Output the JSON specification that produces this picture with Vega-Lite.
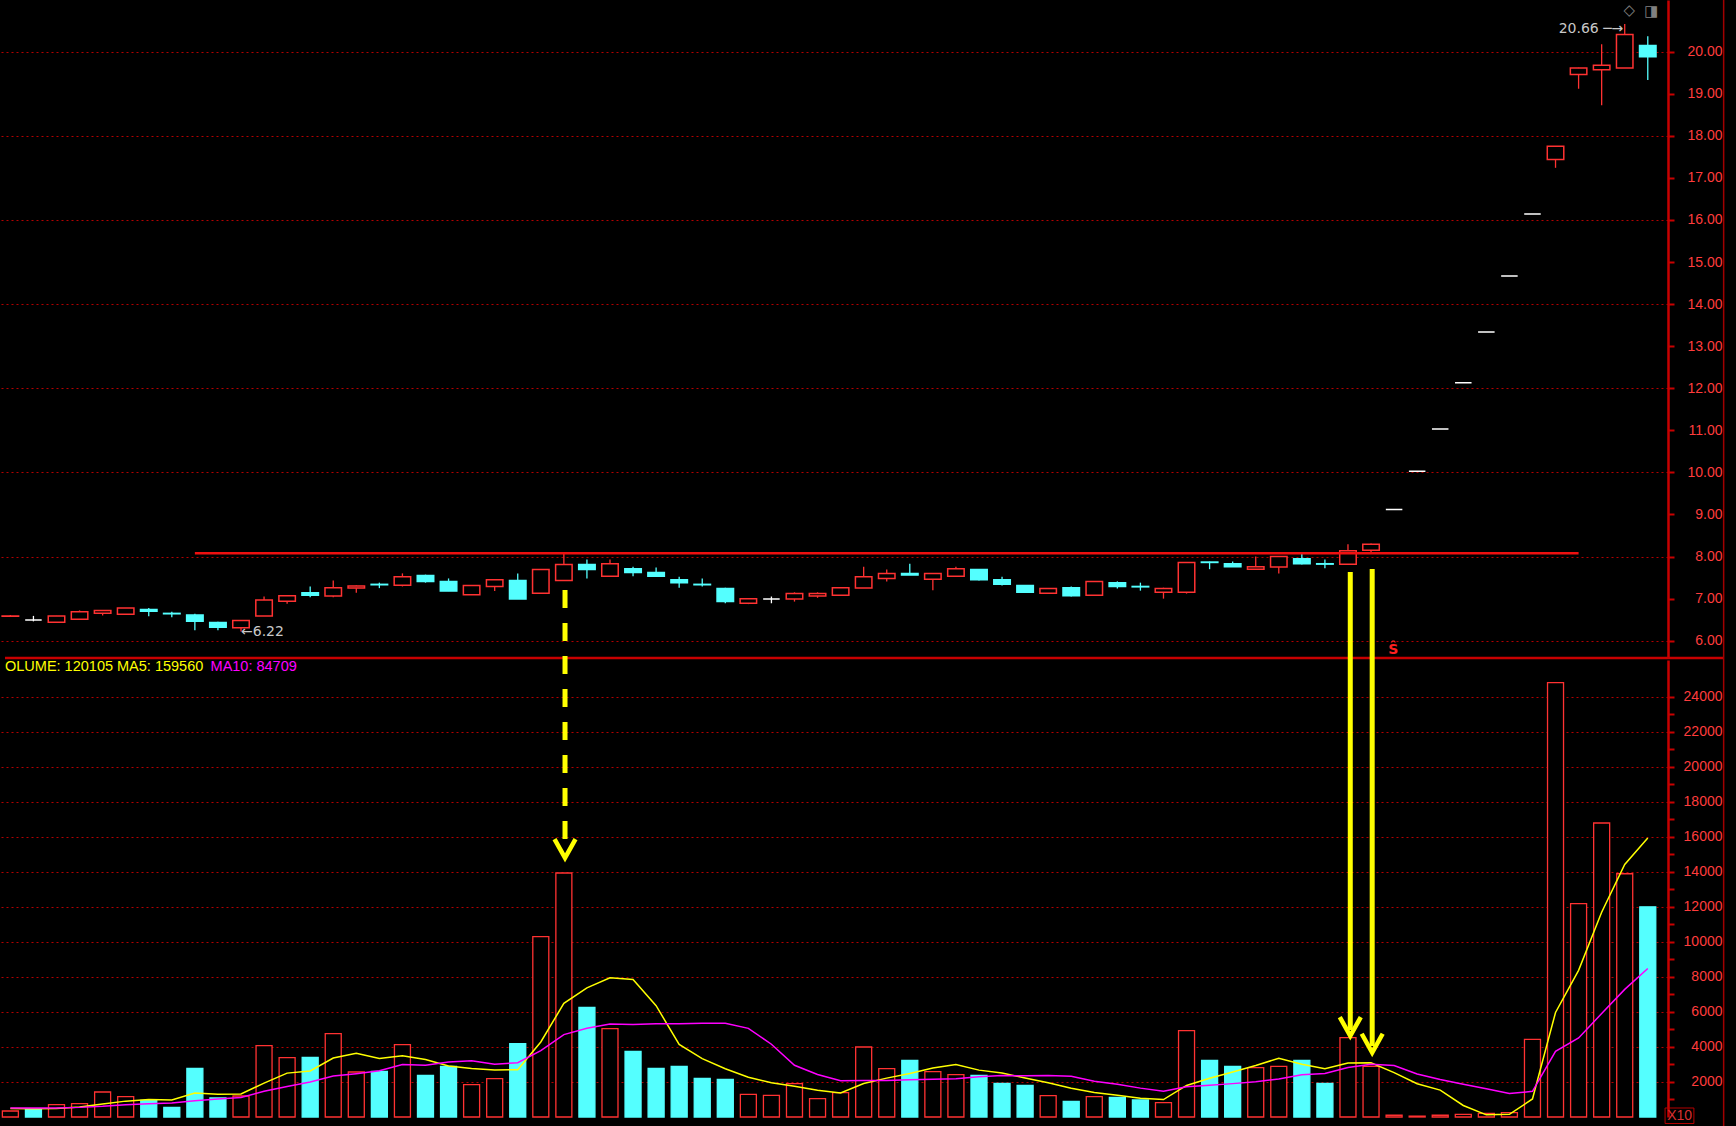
{
  "$schema": "https://vega.github.io/schema/vega-lite/v6.json",
  "width": 1668,
  "height": 1117,
  "autosize": {"type": "none"},
  "padding": {"left": 0, "top": 0, "right": 68, "bottom": 9},
  "background": "#000000",
  "config": {
    "view": {"stroke": null},
    "axis": {"labelFont": "Liberation Sans", "labelFontSize": 14, "labelColor": "#ff3c3c", "domainColor": "#c80000", "tickColor": "#c80000", "title": null}
  },
  "datasets": {
    "k": [
      {"i":1,"o":6.58,"h":6.61,"l":6.57,"c":6.59,"d":"u","v":343,"vc":"u","m5":480,"m10":515},
      {"i":2,"o":6.49,"h":6.59,"l":6.46,"c":6.49,"d":"f","v":476,"vc":"d","m5":475,"m10":515},
      {"i":3,"o":6.44,"h":6.59,"l":6.44,"c":6.59,"d":"u","v":705,"vc":"u","m5":480,"m10":520},
      {"i":4,"o":6.51,"h":6.72,"l":6.51,"c":6.69,"d":"u","v":762,"vc":"u","m5":575,"m10":550},
      {"i":5,"o":6.65,"h":6.72,"l":6.60,"c":6.72,"d":"u","v":1429,"vc":"u","m5":743,"m10":610},
      {"i":6,"o":6.63,"h":6.78,"l":6.63,"c":6.78,"d":"u","v":1162,"vc":"u","m5":907,"m10":700},
      {"i":7,"o":6.74,"h":6.78,"l":6.58,"c":6.70,"d":"d","v":952,"vc":"d","m5":1002,"m10":760},
      {"i":8,"o":6.65,"h":6.69,"l":6.56,"c":6.64,"d":"d","v":552,"vc":"d","m5":971,"m10":800},
      {"i":9,"o":6.61,"h":6.64,"l":6.25,"c":6.46,"d":"d","v":2781,"vc":"d","m5":1375,"m10":935},
      {"i":10,"o":6.43,"h":6.45,"l":6.25,"c":6.32,"d":"d","v":1086,"vc":"d","m5":1307,"m10":1025},
      {"i":11,"o":6.31,"h":6.48,"l":6.22,"c":6.48,"d":"u","v":1200,"vc":"u","m5":1314,"m10":1111},
      {"i":12,"o":6.59,"h":7.05,"l":6.59,"c":6.97,"d":"u","v":4076,"vc":"u","m5":1939,"m10":1471},
      {"i":13,"o":6.94,"h":7.07,"l":6.88,"c":7.07,"d":"u","v":3390,"vc":"u","m5":2507,"m10":1739},
      {"i":14,"o":7.14,"h":7.29,"l":7.03,"c":7.08,"d":"d","v":3410,"vc":"d","m5":2632,"m10":2004},
      {"i":15,"o":7.06,"h":7.43,"l":7.03,"c":7.26,"d":"u","v":4762,"vc":"u","m5":3368,"m10":2337},
      {"i":16,"o":7.25,"h":7.31,"l":7.14,"c":7.30,"d":"u","v":2571,"vc":"u","m5":3642,"m10":2478},
      {"i":17,"o":7.34,"h":7.38,"l":7.25,"c":7.33,"d":"d","v":2610,"vc":"d","m5":3349,"m10":2644},
      {"i":18,"o":7.32,"h":7.60,"l":7.29,"c":7.52,"d":"u","v":4133,"vc":"u","m5":3497,"m10":3002},
      {"i":19,"o":7.55,"h":7.57,"l":7.38,"c":7.41,"d":"d","v":2381,"vc":"d","m5":3291,"m10":2962},
      {"i":20,"o":7.41,"h":7.48,"l":7.18,"c":7.18,"d":"d","v":2895,"vc":"d","m5":2918,"m10":3143},
      {"i":21,"o":7.09,"h":7.31,"l":7.09,"c":7.31,"d":"u","v":1848,"vc":"u","m5":2773,"m10":3208},
      {"i":22,"o":7.29,"h":7.45,"l":7.18,"c":7.45,"d":"u","v":2190,"vc":"u","m5":2689,"m10":3019},
      {"i":23,"o":7.43,"h":7.60,"l":6.99,"c":6.99,"d":"d","v":4190,"vc":"d","m5":2701,"m10":3099},
      {"i":24,"o":7.13,"h":7.69,"l":7.13,"c":7.69,"d":"u","v":10305,"vc":"u","m5":4286,"m10":3789},
      {"i":25,"o":7.43,"h":8.09,"l":7.43,"c":7.81,"d":"u","v":13943,"vc":"u","m5":6495,"m10":4707},
      {"i":26,"o":7.81,"h":7.93,"l":7.48,"c":7.69,"d":"d","v":6267,"vc":"d","m5":7379,"m10":5076},
      {"i":27,"o":7.53,"h":7.93,"l":7.53,"c":7.83,"d":"u","v":5048,"vc":"u","m5":7951,"m10":5320},
      {"i":28,"o":7.71,"h":7.76,"l":7.53,"c":7.62,"d":"d","v":3752,"vc":"d","m5":7863,"m10":5282},
      {"i":29,"o":7.62,"h":7.74,"l":7.53,"c":7.53,"d":"d","v":2781,"vc":"d","m5":6358,"m10":5322},
      {"i":30,"o":7.45,"h":7.52,"l":7.26,"c":7.38,"d":"d","v":2895,"vc":"d","m5":4149,"m10":5322},
      {"i":31,"o":7.34,"h":7.48,"l":7.29,"c":7.33,"d":"d","v":2210,"vc":"d","m5":3337,"m10":5358},
      {"i":32,"o":7.24,"h":7.26,"l":6.89,"c":6.93,"d":"d","v":2152,"vc":"d","m5":2758,"m10":5354},
      {"i":33,"o":6.89,"h":7.00,"l":6.87,"c":7.00,"d":"u","v":1295,"vc":"u","m5":2267,"m10":5065},
      {"i":34,"o":6.99,"h":7.05,"l":6.89,"c":6.99,"d":"f","v":1238,"vc":"u","m5":1958,"m10":4158},
      {"i":35,"o":6.99,"h":7.15,"l":6.93,"c":7.12,"d":"u","v":1905,"vc":"u","m5":1760,"m10":2954},
      {"i":36,"o":7.06,"h":7.15,"l":7.02,"c":7.12,"d":"u","v":1048,"vc":"u","m5":1528,"m10":2432},
      {"i":37,"o":7.08,"h":7.26,"l":7.08,"c":7.26,"d":"u","v":1390,"vc":"u","m5":1375,"m10":2067},
      {"i":38,"o":7.25,"h":7.76,"l":7.25,"c":7.52,"d":"u","v":4000,"vc":"u","m5":1916,"m10":2091},
      {"i":39,"o":7.48,"h":7.69,"l":7.41,"c":7.60,"d":"u","v":2762,"vc":"u","m5":2221,"m10":2090},
      {"i":40,"o":7.60,"h":7.83,"l":7.56,"c":7.56,"d":"d","v":3238,"vc":"d","m5":2488,"m10":2124},
      {"i":41,"o":7.46,"h":7.60,"l":7.20,"c":7.60,"d":"u","v":2590,"vc":"u","m5":2796,"m10":2162},
      {"i":42,"o":7.53,"h":7.76,"l":7.53,"c":7.71,"d":"u","v":2419,"vc":"u","m5":3002,"m10":2189},
      {"i":43,"o":7.69,"h":7.69,"l":7.43,"c":7.45,"d":"d","v":2381,"vc":"d","m5":2678,"m10":2297},
      {"i":44,"o":7.45,"h":7.52,"l":7.31,"c":7.34,"d":"d","v":1924,"vc":"d","m5":2510,"m10":2366},
      {"i":45,"o":7.31,"h":7.31,"l":7.15,"c":7.15,"d":"d","v":1810,"vc":"d","m5":2225,"m10":2356},
      {"i":46,"o":7.13,"h":7.24,"l":7.13,"c":7.24,"d":"u","v":1219,"vc":"u","m5":1951,"m10":2373},
      {"i":47,"o":7.26,"h":7.29,"l":7.05,"c":7.07,"d":"d","v":895,"vc":"d","m5":1646,"m10":2324},
      {"i":48,"o":7.08,"h":7.41,"l":7.08,"c":7.41,"d":"u","v":1162,"vc":"u","m5":1402,"m10":2040},
      {"i":49,"o":7.38,"h":7.41,"l":7.24,"c":7.29,"d":"d","v":1124,"vc":"d","m5":1242,"m10":1876},
      {"i":50,"o":7.29,"h":7.38,"l":7.19,"c":7.28,"d":"d","v":971,"vc":"d","m5":1074,"m10":1650},
      {"i":51,"o":7.15,"h":7.26,"l":7.00,"c":7.24,"d":"u","v":819,"vc":"u","m5":994,"m10":1472},
      {"i":52,"o":7.15,"h":7.86,"l":7.12,"c":7.86,"d":"u","v":4933,"vc":"u","m5":1802,"m10":1724},
      {"i":53,"o":7.87,"h":7.88,"l":7.70,"c":7.86,"d":"d","v":3238,"vc":"d","m5":2217,"m10":1810},
      {"i":54,"o":7.83,"h":7.88,"l":7.76,"c":7.76,"d":"d","v":2895,"vc":"d","m5":2571,"m10":1907},
      {"i":55,"o":7.70,"h":8.00,"l":7.70,"c":7.76,"d":"u","v":2819,"vc":"u","m5":2941,"m10":2008},
      {"i":56,"o":7.75,"h":8.00,"l":7.60,"c":8.00,"d":"u","v":2895,"vc":"u","m5":3356,"m10":2175},
      {"i":57,"o":7.95,"h":8.10,"l":7.81,"c":7.83,"d":"d","v":3238,"vc":"d","m5":3017,"m10":2409},
      {"i":58,"o":7.83,"h":7.93,"l":7.72,"c":7.82,"d":"d","v":1924,"vc":"d","m5":2754,"m10":2486},
      {"i":59,"o":7.82,"h":8.29,"l":7.82,"c":8.14,"d":"u","v":4533,"vc":"u","m5":3082,"m10":2827},
      {"i":60,"o":8.15,"h":8.31,"l":8.08,"c":8.29,"d":"u","v":2895,"vc":"u","m5":3097,"m10":3019},
      {"i":61,"o":9.12,"h":9.12,"l":9.12,"c":9.12,"d":"f","v":100,"vc":"u","m5":2538,"m10":2947},
      {"i":62,"o":10.03,"h":10.03,"l":10.03,"c":10.03,"d":"f","v":50,"vc":"u","m5":1900,"m10":2459},
      {"i":63,"o":11.03,"h":11.03,"l":11.03,"c":11.03,"d":"f","v":100,"vc":"u","m5":1536,"m10":2145},
      {"i":64,"o":12.13,"h":12.13,"l":12.13,"c":12.13,"d":"f","v":152,"vc":"u","m5":659,"m10":1871},
      {"i":65,"o":13.34,"h":13.34,"l":13.34,"c":13.34,"d":"f","v":210,"vc":"u","m5":122,"m10":1610},
      {"i":66,"o":14.67,"h":14.67,"l":14.67,"c":14.67,"d":"f","v":248,"vc":"u","m5":152,"m10":1345},
      {"i":67,"o":16.14,"h":16.14,"l":16.14,"c":16.14,"d":"f","v":4438,"vc":"u","m5":1030,"m10":1465},
      {"i":68,"o":17.44,"h":17.75,"l":17.24,"c":17.75,"d":"u","v":24819,"vc":"u","m5":5973,"m10":3755},
      {"i":69,"o":19.46,"h":19.62,"l":19.12,"c":19.61,"d":"u","v":12190,"vc":"u","m5":8381,"m10":4520},
      {"i":70,"o":19.57,"h":20.18,"l":18.73,"c":19.68,"d":"u","v":16800,"vc":"u","m5":11699,"m10":5911},
      {"i":71,"o":19.61,"h":20.66,"l":19.61,"c":20.41,"d":"u","v":13900,"vc":"u","m5":14429,"m10":7291},
      {"i":72,"o":20.15,"h":20.37,"l":19.33,"c":19.88,"d":"d","v":12010,"vc":"d","m5":15944,"m10":8487}
    ]
  },
  "data": {"name": "k"},
  "encoding": {
    "x": {"field": "i", "type": "quantitative", "scale": {"domain": [0.767, 72.66], "nice": false, "zero": false}, "axis": null}
  },
  "layer": [
    {
      "layer": [
        {
          "mark": {"type": "rule", "strokeWidth": 1.3},
          "encoding": {
            "y": {"field": "l", "type": "quantitative",
              "scale": {"domain": [5.589, 21.229], "range": [658, 0], "nice": false, "zero": false},
              "axis": {"orient": "right", "values": [6,7,8,9,10,11,12,13,14,15,16,17,18,19,20], "format": ".2f",
                "labelAlign": "right", "labelPadding": 48, "labelBaseline": "middle", "labelOverlap": false, "labelFlush": false,
                "tickSize": 6, "tickWidth": 2, "domainWidth": 2.5,
                "grid": true, "gridColor": "#b40000", "gridDash": [2, 3], "gridWidth": 1.2,
                "gridOpacity": {"condition": {"test": "datum.value % 2 === 0", "value": 1}, "value": 0}}},
            "y2": {"field": "h"},
            "color": {"condition": [{"test": "datum.d === 'u'", "value": "#ff3232"}, {"test": "datum.d === 'f'", "value": "#ffffff"}], "value": "#54ffff"}
          }
        },
        {
          "mark": {"type": "bar", "orient": "vertical", "width": 16.5, "strokeWidth": 1.5},
          "encoding": {
            "y": {"field": "o", "type": "quantitative"},
            "y2": {"field": "c"},
            "fill": {"condition": [{"test": "datum.d === 'u'", "value": "#000000"}, {"test": "datum.d === 'f'", "value": "#ffffff"}], "value": "#54ffff"},
            "stroke": {"condition": [{"test": "datum.d === 'u'", "value": "#ff3232"}, {"test": "datum.d === 'f'", "value": "#ffffff"}], "value": "#54ffff"}
          }
        },
        {
          "transform": [{"filter": "datum.i === 1"}],
          "mark": {"type": "rule", "color": "#f01010", "strokeWidth": 2.5},
          "encoding": {"x": {"datum": 9.0}, "x2": {"datum": 69.0}, "y": {"datum": 8.08}}
        },
        {
          "transform": [{"filter": "datum.i === 1"}],
          "mark": {"type": "text", "font": "DejaVu Sans", "fontSize": 14, "color": "#c8c8c8", "align": "left", "baseline": "middle"},
          "encoding": {"x": {"datum": 11.0}, "y": {"datum": 6.21}, "text": {"value": "←6.22"}}
        },
        {
          "transform": [{"filter": "datum.i === 1"}],
          "mark": {"type": "text", "font": "DejaVu Sans", "fontSize": 14, "color": "#c8c8c8", "align": "right", "baseline": "middle"},
          "encoding": {"x": {"datum": 70.94}, "y": {"datum": 20.54}, "text": {"value": "20.66 ─→"}}
        },
        {
          "transform": [{"filter": "datum.i === 1"}],
          "mark": {"type": "text", "font": "DejaVu Sans", "fontSize": 14, "fontWeight": "bold", "color": "#ff2020", "align": "center", "baseline": "middle"},
          "encoding": {"x": {"datum": 60.96}, "y": {"datum": 5.79}, "text": {"value": "Ŝ"}}
        },
        {
          "transform": [{"filter": "datum.i === 1"}],
          "mark": {"type": "text", "font": "DejaVu Sans", "fontSize": 15, "color": "#808080", "align": "center", "baseline": "middle"},
          "encoding": {"x": {"datum": 71.2}, "y": {"datum": 20.99}, "text": {"value": "◇"}}
        },
        {
          "transform": [{"filter": "datum.i === 1"}],
          "mark": {"type": "text", "font": "DejaVu Sans", "fontSize": 15, "color": "#808080", "align": "center", "baseline": "middle"},
          "encoding": {"x": {"datum": 72.15}, "y": {"datum": 20.97}, "text": {"value": "◨"}}
        }
      ]
    },
    {
      "layer": [
        {
          "mark": {"type": "bar", "orient": "vertical", "width": 16, "strokeWidth": 1.3},
          "encoding": {
            "y": {"field": "v", "type": "quantitative",
              "scale": {"domain": [0, 26114], "range": [1117, 660], "nice": false, "zero": false},
              "axis": {"orient": "right", "values": [1000,2000,3000,4000,5000,6000,7000,8000,9000,10000,11000,12000,13000,14000,15000,16000,17000,18000,19000,20000,21000,22000,23000,24000],
                "format": "d", "labelExpr": "datum.value % 2000 === 0 ? datum.label : ''",
                "labelAlign": "right", "labelPadding": 48, "labelBaseline": "middle", "labelOverlap": false, "labelFlush": false,
                "tickSize": 6, "tickWidth": 2, "domainWidth": 2.5,
                "grid": true, "gridColor": "#b40000", "gridDash": [2, 3], "gridWidth": 1.2,
                "gridOpacity": {"condition": {"test": "datum.value % 2000 === 0", "value": 1}, "value": 0}}},
            "fill": {"condition": {"test": "datum.vc === 'u'", "value": "#000000"}, "value": "#54ffff"},
            "stroke": {"condition": {"test": "datum.vc === 'u'", "value": "#ff3232"}, "value": "#54ffff"}
          }
        },
        {
          "mark": {"type": "line", "color": "#ffff00", "strokeWidth": 1.5},
          "encoding": {"y": {"field": "m5", "type": "quantitative"}}
        },
        {
          "mark": {"type": "line", "color": "#ff00ff", "strokeWidth": 1.5},
          "encoding": {"y": {"field": "m10", "type": "quantitative"}}
        },
        {
          "transform": [{"filter": "datum.i === 1"}],
          "mark": {"type": "rule", "color": "#c80000", "strokeWidth": 2.5},
          "encoding": {"x": {"datum": 0.767}, "x2": {"datum": 75.3}, "y": {"datum": 26229}}
        },
        {
          "transform": [{"filter": "datum.i === 1"}],
          "mark": {"type": "rule", "color": "#a00000", "strokeWidth": 1.5},
          "encoding": {"x": {"datum": 75.29}, "y": {"datum": -514}, "y2": {"datum": 63829}}
        },
        {
          "transform": [{"filter": "datum.i === 1"}],
          "mark": {"type": "rect", "fillOpacity": 0, "stroke": "#b40000", "strokeWidth": 1},
          "encoding": {"x": {"datum": 72.75}, "x2": {"datum": 74.0}, "y": {"datum": 514}, "y2": {"datum": -371}}
        },
        {
          "transform": [{"filter": "datum.i === 1"}],
          "mark": {"type": "text", "font": "Liberation Sans", "fontSize": 14, "color": "#d83030", "align": "center", "baseline": "middle"},
          "encoding": {"x": {"datum": 73.38}, "y": {"datum": 57}, "text": {"value": "X10"}}
        },
        {
          "transform": [{"filter": "datum.i === 1"}],
          "mark": {"type": "text", "font": "Liberation Sans", "fontSize": 14.5, "color": "#ffff00", "align": "left", "baseline": "middle"},
          "encoding": {"x": {"datum": 0.767}, "y": {"datum": 25697}, "text": {"value": "OLUME: 120105 MA5: 159560"}}
        },
        {
          "transform": [{"filter": "datum.i === 1"}],
          "mark": {"type": "text", "font": "Liberation Sans", "fontSize": 14.5, "color": "#ff00ff", "align": "left", "baseline": "middle"},
          "encoding": {"x": {"datum": 9.68}, "y": {"datum": 25697}, "text": {"value": "MA10: 84709"}}
        },
        {
          "transform": [{"filter": "datum.i === 1"}],
          "mark": {"type": "rule", "color": "#ffff00", "strokeWidth": 5, "strokeDash": [18, 15], "strokeCap": "butt"},
          "encoding": {"x": {"datum": 25.05}, "y": {"datum": 30114}, "y2": {"datum": 15257}}
        },
        {
          "transform": [{"filter": "datum.i === 1"}],
          "mark": {"type": "rule", "color": "#ffff00", "strokeWidth": 5, "strokeCap": "butt"},
          "encoding": {"x": {"datum": 59.1}, "y": {"datum": 31143}, "y2": {"datum": 4971}}
        },
        {
          "transform": [{"filter": "datum.i === 1"}],
          "mark": {"type": "rule", "color": "#ffff00", "strokeWidth": 5, "strokeCap": "butt"},
          "encoding": {"x": {"datum": 60.05}, "y": {"datum": 31314}, "y2": {"datum": 4057}}
        },
        {
          "transform": [{"filter": "datum.i === 1"}],
          "mark": {"type": "point", "shape": "M-1,-0.9L0,0.9L1,-0.9", "size": 441, "filled": false, "color": "#ffff00", "strokeWidth": 4.5, "opacity": 1},
          "encoding": {"x": {"datum": 25.05}, "y": {"datum": 15343}}
        },
        {
          "transform": [{"filter": "datum.i === 1"}],
          "mark": {"type": "point", "shape": "M-1,-0.9L0,0.9L1,-0.9", "size": 441, "filled": false, "color": "#ffff00", "strokeWidth": 4.5, "opacity": 1},
          "encoding": {"x": {"datum": 59.1}, "y": {"datum": 5171}}
        },
        {
          "transform": [{"filter": "datum.i === 1"}],
          "mark": {"type": "point", "shape": "M-1,-0.9L0,0.9L1,-0.9", "size": 441, "filled": false, "color": "#ffff00", "strokeWidth": 4.5, "opacity": 1},
          "encoding": {"x": {"datum": 60.05}, "y": {"datum": 4217}}
        }
      ]
    }
  ],
  "resolve": {"scale": {"y": "independent"}, "axis": {"y": "independent"}}
}
